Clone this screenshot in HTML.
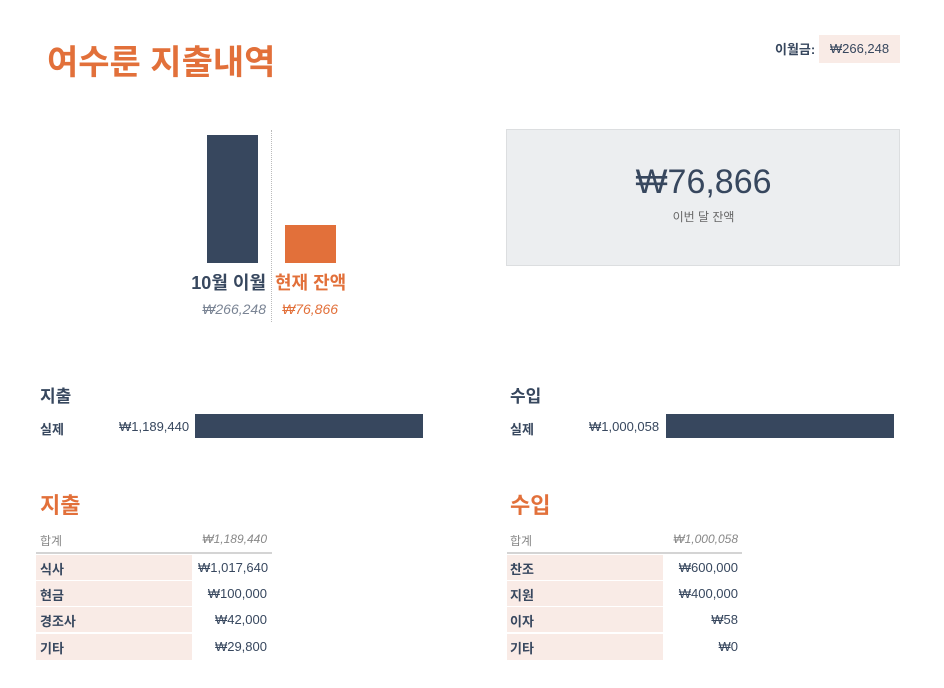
<!DOCTYPE html>
<html><head><meta charset="utf-8"><style>
body{margin:0;width:944px;height:688px;background:#fff;font-family:"Liberation Sans","Noto Sans CJK KR",sans-serif;position:relative;overflow:hidden;color:#37475e}
.a{position:absolute;white-space:nowrap}
.o{color:#e2703a}
.pk{background:#f9ebe6}
.row{position:absolute;height:25px;font-size:13px;line-height:25px}
</style></head><body>
<div class="a o" style="left:47px;top:35px;font-size:34px;font-weight:bold">여수룬 지출내역</div>
<div class="a" style="left:775px;top:39px;font-size:13px;font-weight:bold">이월금:</div>
<div class="a pk" style="left:819px;top:35px;width:81px;height:28px;line-height:28px;text-align:center;font-size:13px">₩266,248</div>

<div class="a" style="left:207px;top:135px;width:51px;height:128px;background:#37475e"></div>
<div class="a" style="left:285px;top:225px;width:51px;height:38px;background:#e2703a"></div>
<div class="a" style="left:271px;top:130px;height:192px;border-left:1px dotted #bbb"></div>
<div class="a" style="right:678px;top:269px;font-size:18px;font-weight:bold">10월 이월</div>
<div class="a o" style="left:275px;top:269px;font-size:18px;font-weight:bold">현재 잔액</div>
<div class="a" style="right:678px;top:301px;font-size:14px;font-style:italic;color:#7a8494">₩266,248</div>
<div class="a o" style="left:282px;top:301px;font-size:14px;font-style:italic">₩76,866</div>

<div class="a" style="left:506px;top:129px;width:392px;height:135px;background:#eceef0;border:1px solid #dcdee0"></div>
<div class="a" style="left:507px;top:163px;width:393px;text-align:center;font-size:34px">₩76,866</div>
<div class="a" style="left:507px;top:208px;width:393px;text-align:center;font-size:12px;color:#666">이번 달 잔액</div>

<div class="a" style="left:40px;top:382px;font-size:17px;font-weight:bold">지출</div>
<div class="a" style="left:40px;top:419px;font-size:13px;font-weight:bold">실제</div>
<div class="a" style="left:100px;top:419px;width:95px;overflow:hidden;font-size:13px"><span style="margin-left:19px">₩1,189,440</span></div>
<div class="a" style="left:195px;top:414px;width:228px;height:24px;background:#37475e"></div>

<div class="a" style="left:510px;top:382px;font-size:17px;font-weight:bold">수입</div>
<div class="a" style="left:510px;top:419px;font-size:13px;font-weight:bold">실제</div>
<div class="a" style="left:570px;top:419px;width:96px;overflow:hidden;font-size:13px"><span style="margin-left:19px">₩1,000,058</span></div>
<div class="a" style="left:666px;top:414px;width:228px;height:24px;background:#37475e"></div>

<div class="a o" style="left:40px;top:488px;font-size:22px;font-weight:bold">지출</div>
<div class="a" style="left:40px;top:532px;font-size:12px;color:#888">합계</div>
<div class="a" style="left:192px;top:532px;width:75px;text-align:right;font-size:12px;font-style:italic;color:#888">₩1,189,440</div>
<div class="a" style="left:36px;top:552px;width:236px;height:2px;background:#d4d4d4"></div>
<div class="row pk" style="left:36px;top:555px;width:156px"></div><div class="a" style="left:40px;top:559px;font-size:13px;font-weight:bold">식사</div><div class="a" style="left:192px;top:560px;width:80px;overflow:hidden;font-size:13px"><span style="margin-left:6px">₩1,017,640</span></div>
<div class="row pk" style="left:36px;top:581px;width:156px"></div><div class="a" style="left:40px;top:585px;font-size:13px;font-weight:bold">현금</div><div class="a" style="left:192px;top:586px;width:75px;text-align:right;font-size:13px">₩100,000</div>
<div class="row pk" style="left:36px;top:607px;width:156px"></div><div class="a" style="left:40px;top:611px;font-size:13px;font-weight:bold">경조사</div><div class="a" style="left:192px;top:612px;width:75px;text-align:right;font-size:13px">₩42,000</div>
<div class="row pk" style="left:36px;top:634px;width:156px;height:26px"></div><div class="a" style="left:40px;top:638px;font-size:13px;font-weight:bold">기타</div><div class="a" style="left:192px;top:639px;width:75px;text-align:right;font-size:13px">₩29,800</div>

<div class="a o" style="left:510px;top:488px;font-size:22px;font-weight:bold">수입</div>
<div class="a" style="left:510px;top:532px;font-size:12px;color:#888">합계</div>
<div class="a" style="left:663px;top:532px;width:75px;text-align:right;font-size:12px;font-style:italic;color:#888">₩1,000,058</div>
<div class="a" style="left:507px;top:552px;width:235px;height:2px;background:#d4d4d4"></div>
<div class="row pk" style="left:507px;top:555px;width:156px"></div><div class="a" style="left:510px;top:559px;font-size:13px;font-weight:bold">찬조</div><div class="a" style="left:663px;top:560px;width:75px;text-align:right;font-size:13px">₩600,000</div>
<div class="row pk" style="left:507px;top:581px;width:156px"></div><div class="a" style="left:510px;top:585px;font-size:13px;font-weight:bold">지원</div><div class="a" style="left:663px;top:586px;width:75px;text-align:right;font-size:13px">₩400,000</div>
<div class="row pk" style="left:507px;top:607px;width:156px"></div><div class="a" style="left:510px;top:611px;font-size:13px;font-weight:bold">이자</div><div class="a" style="left:663px;top:612px;width:75px;text-align:right;font-size:13px">₩58</div>
<div class="row pk" style="left:507px;top:634px;width:156px;height:26px"></div><div class="a" style="left:510px;top:638px;font-size:13px;font-weight:bold">기타</div><div class="a" style="left:663px;top:639px;width:75px;text-align:right;font-size:13px">₩0</div>
</body></html>
